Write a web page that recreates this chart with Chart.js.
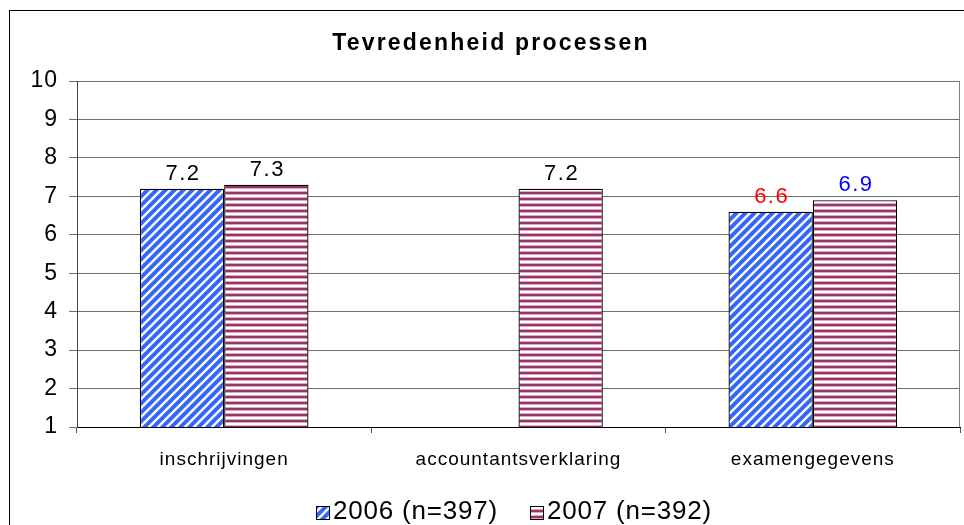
<!DOCTYPE html>
<html>
<head>
<meta charset="utf-8">
<script src="https://cdn.jsdelivr.net/npm/chart.js@4"></script>
<style>
  html, body { margin: 0; padding: 0; background: #fff; overflow: hidden; }
  #wrap { width: 964px; height: 525px; }
</style>
</head>
<body>
<div id="wrap"><canvas id="chart" width="964" height="525"></canvas></div>
<script>
// data
var categories = ['inschrijvingen', 'accountantsverklaring', 'examengegevens'];
var values2006 = [7.2, null, 6.6];
var values2007 = [7.3, 7.2, 6.9];
var labels2006Colors = ['#000000', '#000000', '#ff0000'];
var labels2007Colors = ['#000000', '#000000', '#0000ff'];
var seriesNames = ['2006 (n=397)', '2007 (n=392)'];
var yTicks = [1, 2, 3, 4, 5, 6, 7, 8, 9, 10];

var FONT = "'Liberation Sans', Arial, sans-serif";

function diagPattern() {
    var n = 9;
    var c = document.createElement('canvas');
    c.width = n; c.height = n;
    var g = c.getContext('2d');
    g.fillStyle = '#3366ff';
    g.fillRect(0, 0, n, n);
    g.strokeStyle = '#ffffff';
    g.lineWidth = 2.4;
    g.beginPath();
    g.moveTo(-2, n + 2); g.lineTo(n + 2, -2);
    g.moveTo(-2, 2); g.lineTo(2, -2);
    g.moveTo(n - 2, n + 2); g.lineTo(n + 2, n - 2);
    g.stroke();
    return g.createPattern(c, 'repeat');
}

function stripePattern() {
    var c = document.createElement('canvas');
    c.width = 8; c.height = 6;
    var g = c.getContext('2d');
    var rows = ['#993366', '#993366', '#d8a8c0', '#ffffff', '#ffffff', '#d8a8c0'];
    rows.forEach(function (col, i) {
        g.fillStyle = col;
        g.fillRect(0, i, 8, 1);
    });
    return g.createPattern(c, 'repeat');
}

var pat2006 = diagPattern();
var pat2007 = stripePattern();

var framePlugin = {
    id: 'frame',
    beforeDraw: function (chart) {
        chart.ctx.letterSpacing = '1px';
    },
    afterDraw: function (chart) {
        var ctx = chart.ctx;
        var a = chart.chartArea;
        ctx.save();
        ctx.letterSpacing = '0px';
        // outer border
        ctx.strokeStyle = '#000';
        ctx.lineWidth = 1;
        ctx.strokeRect(9.5, 10.5, 970, 530);
        // right plot border
        ctx.strokeStyle = '#808080';
        ctx.beginPath();
        ctx.moveTo(Math.round(a.right) - 0.5, a.top);
        ctx.lineTo(Math.round(a.right) - 0.5, a.bottom);
        ctx.stroke();
        // title
        ctx.fillStyle = '#000';
        ctx.font = 'bold 23px ' + FONT;
        ctx.letterSpacing = '2.2px';
        ctx.textAlign = 'center';
        ctx.textBaseline = 'alphabetic';
        ctx.fillText('Tevredenheid processen', 491, 50);
        // value labels
        ctx.font = '22px ' + FONT;
        ctx.letterSpacing = '1.5px';
        var colorSets = [labels2006Colors, labels2007Colors];
        chart.data.datasets.forEach(function (ds, di) {
            var meta = chart.getDatasetMeta(di);
            meta.data.forEach(function (bar, i) {
                if (ds.data[i] === null) return;
                ctx.fillStyle = colorSets[di][i];
                ctx.fillText(ds.data[i].toFixed(1), bar.x + 1, bar.y - 9);
            });
        });
        // legend
        ctx.font = '26px ' + FONT;
        ctx.letterSpacing = '0.8px';
        ctx.textAlign = 'left';
        var pats = [pat2006, pat2007];
        var boxX = [316, 530];
        chart.data.datasets.forEach(function (ds, di) {
            var bx = boxX[di];
            ctx.fillStyle = pats[di];
            ctx.fillRect(bx, 506, 13, 13);
            ctx.strokeStyle = '#000';
            ctx.strokeRect(bx + 0.5, 506.5, 13, 13);
            ctx.fillStyle = '#000';
            ctx.fillText(ds.label, bx + 17, 519);
        });
        ctx.restore();
        ctx.letterSpacing = '0px';
    }
};

var ctx = document.getElementById('chart').getContext('2d');
var chart = new Chart(ctx, {
    type: 'bar',
    data: {
        labels: categories,
        datasets: [{
            label: seriesNames[0],
            data: values2006,
            backgroundColor: pat2006,
            borderColor: '#000',
            borderWidth: 1.3,
            borderSkipped: 'bottom'
        }, {
            label: seriesNames[1],
            data: values2007,
            backgroundColor: pat2007,
            borderColor: '#000',
            borderWidth: 1.3,
            borderSkipped: 'bottom'
        }]
    },
    options: {
        responsive: false,
        animation: false,
        devicePixelRatio: 1,
        layout: { padding: { left: 9, top: 81, right: 4, bottom: 0 } },
        categoryPercentage: 0.573,
        barPercentage: 1,
        plugins: {
            title: { display: false },
            tooltip: { enabled: false },
            legend: { display: false }
        },
        scales: {
            x: {
                afterFit: function (s) { s.height = 98; },
                grid: {
                    display: true,
                    offset: true,
                    drawOnChartArea: false,
                    tickLength: 6,
                    color: '#555'
                },
                border: { color: '#000' },
                ticks: {
                    font: { family: FONT, size: 19 },
                    color: '#000',
                    padding: 15
                }
            },
            y: {
                min: 1,
                max: 10,
                afterFit: function (s) { s.width = 68; },
                afterBuildTicks: function (s) {
                    s.ticks = yTicks.map(function (v) { return { value: v }; });
                },
                grid: {
                    color: '#707070',
                    tickLength: 8
                },
                border: { color: '#444' },
                ticks: {
                    font: { family: FONT, size: 23 },
                    color: '#000',
                    padding: 11
                }
            }
        }
    },
    plugins: [framePlugin]
});
</script>
</body>
</html>
